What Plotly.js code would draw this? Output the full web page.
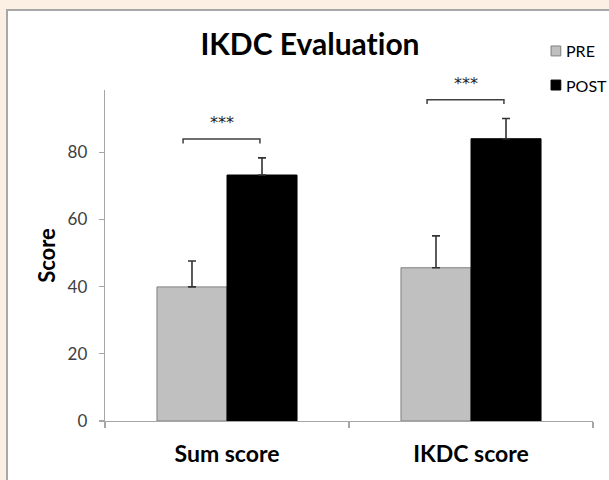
<!DOCTYPE html>
<html>
<head>
<meta charset="utf-8">
<script src="https://cdn.plot.ly/plotly-3.0.1.min.js"></script>
<style>
  html, body { margin: 0; padding: 0; width: 609px; height: 480px; overflow: hidden; background: #fcefe4; }
  #frame { position: absolute; left: 6px; top: 9px; width: 610px; height: 480px; background: #ffffff; border: 2px solid #a8a8a8; box-sizing: border-box; }
  #chart { position: absolute; left: 0; top: 0; width: 609px; height: 480px; }
  #chart text { font-variant-ligatures: none; font-feature-settings: "liga" 0; }
</style>
</head>
<body>
<div id="frame"></div>
<div id="chart"></div>
<script>
const categories = ["Sum score", "IKDC score"];
const preValues = [39.9, 45.6];
const preErrors = [7.7, 9.5];
const postValues = [73.2, 84.0];
const postErrors = [5.1, 6.0];
const seriesNames = ["PRE", "POST"];
const seriesColors = ["#c0c0c0", "#000000"];
const seriesOutlines = ["#7f7f7f", "#000000"];
const significance = ["***", "***"];
const yMax = 98.5;

const FONT = "Lato, 'Open Sans', sans-serif";

function barTrace(k, vals, errs) {
  return {
    type: "bar", name: seriesNames[k], x: categories, y: vals,
    marker: { color: seriesColors[k], line: { color: seriesOutlines[k], width: 1 } },
    error_y: { type: "data", symmetric: false, array: errs, arrayminus: errs.map(() => 0),
               color: "#333333", thickness: 1.6, width: 4 }
  };
}
const traces = [barTrace(0, preValues, preErrors), barTrace(1, postValues, postErrors)];

// significance brackets built from the data (above the tallest error bar)
const shapes = [];
const annotations = [];
categories.forEach((c, i) => {
  const top = Math.max(preValues[i] + preErrors[i], postValues[i] + postErrors[i]);
  const yb = top + 5.6;
  const yt = yb - 1.3;
  shapes.push({
    type: "path", xref: "x", yref: "y",
    path: `M ${i - 0.18} ${yt} L ${i - 0.18} ${yb} L ${i + 0.135} ${yb} L ${i + 0.135} ${yt}`,
    line: { color: "#404040", width: 1.5 }
  });
  annotations.push({
    x: i - 0.02, y: (yb + 4.8) / yMax, xref: "x", yref: "paper", yanchor: "middle",
    text: significance[i], showarrow: false,
    font: { family: "'DejaVu Sans', sans-serif", size: 16, color: "#222222" }
  });
});

// legend (drawn at top right, outside the plot area like the original)
const legendRows = [[1.133, 1.103, 1.118], [1.030, 1.000, 1.015]];
seriesNames.forEach((name, k) => {
  const r = legendRows[k];
  shapes.push({
    type: "rect", xref: "paper", yref: "paper", x0: 0.914, x1: 0.934, y0: r[1], y1: r[0],
    fillcolor: seriesColors[k], line: { color: seriesOutlines[k], width: 1 }
  });
  annotations.push({
    x: 0.941, y: r[2], xref: "paper", yref: "paper", xanchor: "left", yanchor: "middle",
    text: name, showarrow: false, font: { family: FONT, size: 16, color: "#000000" }
  });
});

const layout = {
  width: 609, height: 480,
  paper_bgcolor: "rgba(0,0,0,0)", plot_bgcolor: "rgba(0,0,0,0)",
  margin: { l: 105, r: 16, t: 90, b: 59, autoexpand: false },
  barmode: "group", bargap: 0.426, bargroupgap: 0,
  showlegend: false,
  title: { text: "IKDC Evaluation", x: 0.509, xanchor: "center", y: 0.908, yanchor: "middle",
           font: { family: FONT, size: 30, color: "#000000", weight: "bold" } },
  xaxis: {
    type: "category", showline: true, linecolor: "#a6a6a6", linewidth: 1.3,
    ticks: "outside", tickson: "boundaries", ticklen: 6, tickcolor: "#a6a6a6", tickwidth: 1.3,
    tickfont: { family: FONT, size: 23, color: "#000000", weight: "bold" },
    ticklabelstandoff: 12, showgrid: false, zeroline: false, automargin: false
  },
  yaxis: {
    range: [0, yMax], dtick: 20, tick0: 0, showline: true, linecolor: "#a6a6a6", linewidth: 1.3,
    ticks: "outside", ticklen: 5, tickcolor: "#a6a6a6", tickwidth: 1.3,
    tickfont: { family: FONT, size: 17, color: "#404040" }, ticklabelstandoff: 8,
    showgrid: false, zeroline: false, automargin: false,
    title: { text: "Score", standoff: 6, font: { family: FONT, size: 22, color: "#000000", weight: "bold" } }
  },
  shapes: shapes,
  annotations: annotations
};

Plotly.newPlot("chart", traces, layout, { displayModeBar: false, staticPlot: true });
</script>
</body>
</html>
